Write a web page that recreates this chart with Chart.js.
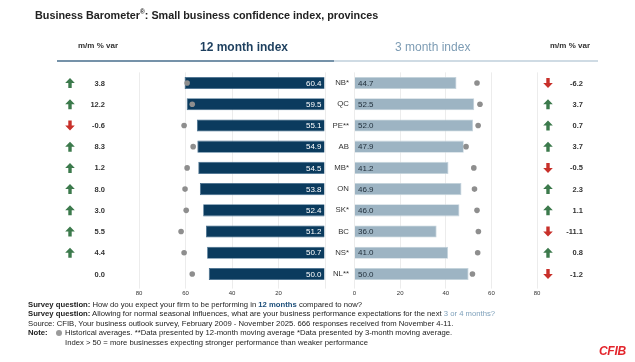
<!DOCTYPE html>
<html>
<head>
<meta charset="utf-8">
<script src="https://cdn.jsdelivr.net/npm/chart.js@4.4.1/dist/chart.umd.min.js"></script>
<style>
  html,body{margin:0;padding:0;background:#fff;}
  #wrap{position:relative;width:635px;height:362px;overflow:hidden;font-family:"Liberation Sans",Arial,sans-serif;color:#222;}
  canvas{position:absolute;left:0;top:0;}
  .t{position:absolute;white-space:nowrap;}
  .title{left:35px;top:8px;font-size:10.8px;font-weight:bold;color:#222;}
  .hdr{top:41px;font-size:8px;font-weight:bold;color:#333;}
  .h12{top:39.5px;font-size:12px;color:#1d3f5e;font-weight:bold;}
  .h3{top:39.5px;font-size:12px;color:#7d9cb4;}
  .note{left:28px;font-size:7.7px;color:#222;}
  .b{font-weight:bold;}
  .logo{left:599px;top:344px;font-size:12px;font-weight:bold;font-style:italic;color:#e3242b;letter-spacing:-0.3px;}
</style>
</head>
<body>
<div id="wrap">
  <canvas id="left" width="635" height="362"></canvas>
  <canvas id="right" width="635" height="362"></canvas>
  <div class="t title">Business Barometer<sup style="font-size:6.5px">®</sup>: Small business confidence index, provinces</div>
  <div class="t hdr" style="left:78px;">m/m % var</div>
  <div class="t h12" style="left:200px;">12 month index</div>
  <div class="t h3" style="left:395px;">3 month index</div>
  <div class="t hdr" style="left:550px;">m/m % var</div>
  <div style="position:absolute;left:57px;top:60px;width:277px;height:1.5px;background:#7592a9;"></div>
  <div style="position:absolute;left:334px;top:60px;width:264px;height:1.5px;background:#cfdbe4;"></div>
  <div class="t note" style="top:299.5px;"><span class="b">Survey question:</span> How do you expect your firm to be performing in <span class="b" style="color:#1d4f7a">12 months</span> compared to now?</div>
  <div class="t note" style="top:309px;"><span class="b">Survey question:</span> Allowing for normal seasonal influences, what are your business performance expectations for the next <span style="color:#7fa1bb">3 or 4 months?</span></div>
  <div class="t note" style="top:318.5px;">Source: CFIB, Your business outlook survey, February 2009 - November 2025. 666 responses received from November 4-11.</div>
  <div class="t note" style="top:328px;"><span class="b">Note:</span></div>
  <div style="position:absolute;left:56px;top:330px;width:6px;height:6px;border-radius:50%;background:#9a9a9a;"></div>
  <div class="t note" style="left:65px;top:328px;">Historical averages. **Data presented by 12-month moving average *Data presented by 3-month moving average.</div>
  <div class="t note" style="left:65px;top:337.5px;">Index &gt; 50 = more businesses expecting stronger performance than weaker performance</div>
  <div class="t logo">CFIB</div>
</div>
<script>
const provinces = ['NB*','QC','PE**','AB','MB*','ON','SK*','BC','NS*','NL**'];
const index12 = [60.4,59.5,55.1,54.9,54.5,53.8,52.4,51.2,50.7,50.0];
const hist12  = [59.3,57.1,60.6,56.7,59.3,60.2,59.7,61.9,60.6,57.1];
const var12   = [3.8,12.2,-0.6,8.3,1.2,8.0,3.0,5.5,4.4,0.0];
const index3  = [44.7,52.5,52.0,47.9,41.2,46.9,46.0,36.0,41.0,50.0];
const hist3   = [53.7,55.0,54.2,48.9,52.3,52.6,53.7,54.3,54.0,51.7];
const var3    = [-6.2,3.7,0.7,3.7,-0.5,2.3,1.1,-11.1,0.8,-1.2];
const xMin = 0, xMax = 80, xStep = 20;

const FONT = '"Liberation Sans", Arial, sans-serif';
Chart.defaults.font.family = FONT;

const GREEN = '#3c7a4c', RED = '#c8302a';
function drawArrow(ctx, cx, cy, up, color){
  ctx.save();
  ctx.fillStyle = color;
  ctx.translate(cx, cy);
  if(!up) ctx.scale(1,-1);
  ctx.beginPath();
  ctx.moveTo(0,-5);
  ctx.lineTo(4.8,0);
  ctx.lineTo(1.7,0);
  ctx.lineTo(1.7,5);
  ctx.lineTo(-1.7,5);
  ctx.lineTo(-1.7,0);
  ctx.lineTo(-4.8,0);
  ctx.closePath();
  ctx.fill();
  ctx.restore();
}
function fmt(v){ return v.toFixed(1); }

function sidePlugin(id, vars, arrowX, valX, labelSide){
  return {
    id,
    afterDatasetsDraw(chart){
      const ctx = chart.ctx;
      const meta = chart.getDatasetMeta(1);
      ctx.save();
      ctx.textBaseline = 'middle';
      meta.data.forEach((bar, i) => {
        const v = chart.data.datasets[1].data[i];
        ctx.font = '8px ' + FONT;
        if(labelSide === 'left'){
          ctx.fillStyle = '#ffffff';
          ctx.textAlign = 'right';
          ctx.fillText(fmt(v), bar.base - 3, bar.y + 0.5);
        } else {
          ctx.fillStyle = '#1e2c38';
          ctx.textAlign = 'left';
          ctx.fillText(fmt(v), bar.base + 3, bar.y + 0.5);
        }
        const d = vars[i];
        if(d > 0) drawArrow(ctx, arrowX, bar.y, true, GREEN);
        else if(d < 0) drawArrow(ctx, arrowX, bar.y, false, RED);
        ctx.font = 'bold 7.5px ' + FONT;
        ctx.fillStyle = '#333';
        ctx.textAlign = 'right';
        ctx.fillText(fmt(d), valX, bar.y + 0.5);
      });
      ctx.restore();
    }
  };
}

const CH_TOP = 72.4, CH_BOTTOM = 284.6, XAX_H = 14;

function xScale(reverse, hideZero){
  return {
    type:'linear', min:xMin, max:xMax, reverse,
    ticks:{stepSize:xStep, font:{size:6}, color:'#333', padding:1,
      callback:(v)=> (hideZero && v===0) ? '' : v},
    grid:{color:'#ececec', lineWidth:1, tickLength:4, drawTicks:true},
    border:{display:false},
    afterFit:(s)=>{ s.height = XAX_H; }
  };
}

new Chart(document.getElementById('left'), {
  type:'bar',
  data:{
    labels: provinces,
    datasets:[
      {type:'line', label:'Historical average', data:hist12, indexAxis:'y', showLine:false,
       pointRadius:2.8, pointBackgroundColor:'#8e8e8e', pointBorderWidth:0, order:0},
      {type:'bar', label:'12 month index', data:index12, indexAxis:'y',
       backgroundColor:'#0b3b5e', borderColor:'#3f6a8a', borderWidth:0.8,
       categoryPercentage:1, barPercentage:0.57, order:1}
    ]
  },
  options:{
    indexAxis:'y', responsive:false, animation:false, devicePixelRatio:1,
    layout:{padding:{left:139, right:635-325, top:CH_TOP, bottom:362-CH_BOTTOM-XAX_H}},
    plugins:{legend:{display:false}, tooltip:{enabled:false}},
    scales:{
      x: xScale(true, true),
      y: {display:false}
    }
  },
  plugins:[sidePlugin('leftSide', var12, 70, 105, 'left')]
});

new Chart(document.getElementById('right'), {
  type:'bar',
  data:{
    labels: provinces,
    datasets:[
      {type:'line', label:'Historical average', data:hist3, indexAxis:'y', showLine:false,
       pointRadius:2.8, pointBackgroundColor:'#8e8e8e', pointBorderWidth:0, order:0},
      {type:'bar', label:'3 month index', data:index3, indexAxis:'y',
       backgroundColor:'#9db4c3', borderColor:'#c4d3dc', borderWidth:0.8,
       categoryPercentage:1, barPercentage:0.57, order:1}
    ]
  },
  options:{
    indexAxis:'y', responsive:false, animation:false, devicePixelRatio:1,
    layout:{padding:{left:300, right:635-537, top:CH_TOP, bottom:362-CH_BOTTOM-XAX_H}},
    plugins:{legend:{display:false}, tooltip:{enabled:false}},
    scales:{
      x: xScale(false, false),
      y: {
        ticks:{font:{size:7.8}, color:'#333', padding:5.5},
        grid:{display:false, drawTicks:false}, border:{display:false},
        afterFit:(s)=>{ s.width = 54.5; }
      }
    }
  },
  plugins:[sidePlugin('rightSide', var3, 548, 583, 'right')]
});
</script>
</body>
</html>
